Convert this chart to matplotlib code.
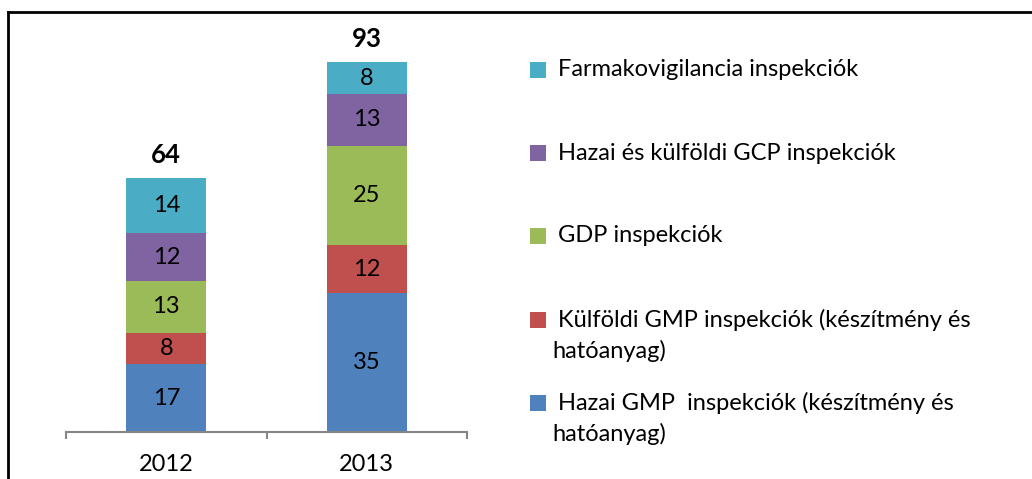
import matplotlib
matplotlib.use("Agg")
import matplotlib.pyplot as plt
from matplotlib.patches import Rectangle
from matplotlib.lines import Line2D

plt.rcParams['font.family'] = ['Lato', 'DejaVu Sans']

years = ["2012", "2013"]
series_names = [
    "Hazai GMP  inspekciók (készítmény és\nhatóanyag)",
    "Külföldi GMP inspekciók (készítmény és\nhatóanyag)",
    "GDP inspekciók",
    "Hazai és külföldi GCP inspekciók",
    "Farmakovigilancia inspekciók",
]
hazai_gmp = [17, 35]
kulfoldi_gmp = [8, 12]
gdp = [13, 25]
gcp = [12, 13]
farmakovigilancia = [14, 8]
totals = [64, 93]
colors = ["#4F81BD", "#C0504D", "#9BBB59", "#8064A2", "#4BACC6"]

W, H = 1032, 479
fig = plt.figure(figsize=(W / 100, H / 100), dpi=100)
fig.patch.set_facecolor("white")

# axes: x from pixel 66 to 467, baseline at pixel y 432, 3.975 px per unit
ymax = 100
px_per_unit = 3.975
ax_left = 66 / W
ax_w = (467 - 66) / W
ax_bottom = (H - 432) / H
ax_h = ymax * px_per_unit / H
ax = fig.add_axes([ax_left, ax_bottom, ax_w, ax_h])

series = [hazai_gmp, kulfoldi_gmp, gdp, gcp, farmakovigilancia]
x = list(range(len(years)))
bottoms = [0] * len(years)
fs = 17
for vals, c in zip(series, colors):
    bars = ax.bar(x, vals, width=0.4, bottom=bottoms, color=c, linewidth=0)
    for xi, v, b in zip(x, vals, bottoms):
        ax.text(xi, b + v / 2, str(v), ha="center", va="center", fontsize=fs, color="black")
    bottoms = [b + v for b, v in zip(bottoms, vals)]

for xi, t, b in zip(x, totals, bottoms):
    ax.text(xi, b + 5.8, str(t), ha="center", va="center", fontsize=fs + 1.5, fontweight="bold", color="black")

ax.set_xlim(-0.5, 1.5)
ax.set_ylim(0, ymax)
for s in ["top", "right", "left"]:
    ax.spines[s].set_visible(False)
ax.spines["bottom"].set_color("#868686")
ax.spines["bottom"].set_linewidth(1.5)
ax.set_yticks([])
ax.set_xticks([-0.5, 0.5, 1.5])
ax.set_xticklabels([])
ax.tick_params(axis="x", direction="out", length=5, width=1.5, color="#868686")
ax.set_xticks(x, minor=True)
ax.set_xticklabels(years, minor=True, fontsize=fs)
ax.tick_params(axis="x", which="minor", length=0, pad=16)

# legend drawn manually (top entry first)
legend_y = [70, 153, 236, 320, 403]
order = [4, 3, 2, 1, 0]
for yy, i in zip(legend_y, order):
    fig.add_artist(Rectangle((530 / W, (H - yy - 8) / H), 16 / W, 16 / H,
                             transform=fig.transFigure, color=colors[i], linewidth=0))
    lines = series_names[i].split("\n")
    fig.text(558 / W, (H - yy) / H, lines[0], ha="left", va="center", fontsize=fs)
    if len(lines) > 1:
        fig.text(552 / W, (H - yy - 31) / H, lines[1], ha="left", va="center", fontsize=fs)

# frame lines (top and left)
fig.add_artist(Line2D([8 / W, 1.0], [(H - 12) / H] * 2, transform=fig.transFigure, color="black", linewidth=2))
fig.add_artist(Line2D([8 / W] * 2, [0, (H - 12) / H], transform=fig.transFigure, color="black", linewidth=2))

fig.savefig("out.png", dpi=100, facecolor="white")
